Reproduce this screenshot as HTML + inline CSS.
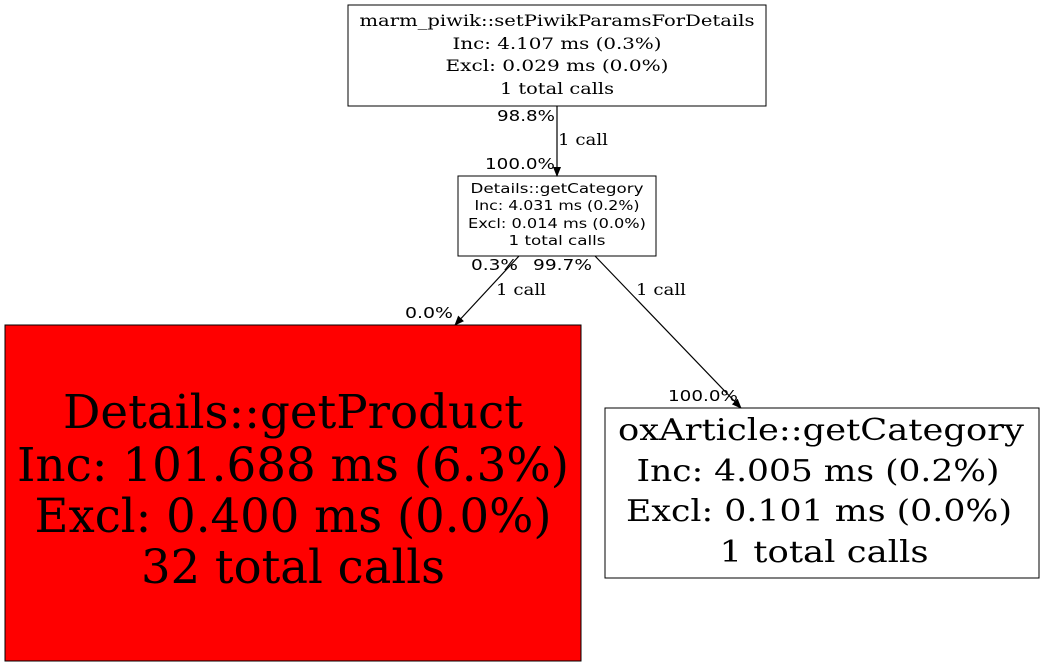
<!DOCTYPE html>
<html><head><meta charset="utf-8"><style>body{margin:0;background:#fff}svg{display:block}</style></head>
<body>
<svg width="1045" height="667" viewBox="0 0 1045 667" xmlns="http://www.w3.org/2000/svg">
<defs><marker id="a" markerWidth="10" markerHeight="8" refX="9" refY="4" orient="auto" markerUnits="userSpaceOnUse"><path d="M0,0 L10,4 L0,8 z" fill="#000"/></marker></defs>
<g font-family="DejaVu Serif, Liberation Serif, serif" text-anchor="middle" fill="#000">
<rect x="348" y="5" width="418" height="101" fill="#fff" stroke="#000"/>
<g font-size="16"><text x="557" y="26" textLength="395" lengthAdjust="spacingAndGlyphs">marm_piwik::setPiwikParamsForDetails</text><text x="557" y="49" textLength="209" lengthAdjust="spacingAndGlyphs">Inc: 4.107 ms (0.3%)</text><text x="557" y="71" textLength="223" lengthAdjust="spacingAndGlyphs">Excl: 0.029 ms (0.0%)</text><text x="557" y="94" textLength="114" lengthAdjust="spacingAndGlyphs">1 total calls</text></g>
<rect x="458" y="176" width="198" height="80" fill="#fff" stroke="#000"/>
<g font-size="13" font-family="DejaVu Sans, Liberation Sans, sans-serif"><text x="557" y="193" textLength="173" lengthAdjust="spacingAndGlyphs">Details::getCategory</text><text x="557" y="210" textLength="165" lengthAdjust="spacingAndGlyphs">Inc: 4.031 ms (0.2%)</text><text x="557" y="228" textLength="178" lengthAdjust="spacingAndGlyphs">Excl: 0.014 ms (0.0%)</text><text x="557" y="245" textLength="97" lengthAdjust="spacingAndGlyphs">1 total calls</text></g>
<rect x="5" y="325" width="576" height="336" fill="#f00" stroke="#000"/>
<g font-size="47"><text x="293" y="428" textLength="460" lengthAdjust="spacingAndGlyphs">Details::getProduct</text><text x="293" y="481" textLength="552" lengthAdjust="spacingAndGlyphs">Inc: 101.688 ms (6.3%)</text><text x="293" y="532" textLength="517" lengthAdjust="spacingAndGlyphs">Excl: 0.400 ms (0.0%)</text><text x="293" y="583" textLength="304" lengthAdjust="spacingAndGlyphs">32 total calls</text></g>
<rect x="605" y="408" width="434" height="170" fill="#fff" stroke="#000"/>
<g font-size="30"><text x="821" y="440" textLength="406" lengthAdjust="spacingAndGlyphs">oxArticle::getCategory</text><text x="818" y="481" textLength="363" lengthAdjust="spacingAndGlyphs">Inc: 4.005 ms (0.2%)</text><text x="819" y="521" textLength="386" lengthAdjust="spacingAndGlyphs">Excl: 0.101 ms (0.0%)</text><text x="824" y="562" textLength="209" lengthAdjust="spacingAndGlyphs">1 total calls</text></g>
<g stroke="#000" stroke-width="1.2" fill="none" marker-end="url(#a)">
<line x1="557" y1="106" x2="557" y2="176"/>
<line x1="519" y1="256" x2="455" y2="325"/>
<line x1="595" y1="256" x2="741" y2="408"/>
</g>
<g font-size="15" font-family="DejaVu Sans, Liberation Sans, sans-serif">
<text x="555" y="121" text-anchor="end" textLength="58" lengthAdjust="spacingAndGlyphs">98.8%</text>
<text x="555" y="169" text-anchor="end" textLength="70" lengthAdjust="spacingAndGlyphs">100.0%</text>
<text x="518" y="270" text-anchor="end" textLength="47" lengthAdjust="spacingAndGlyphs">0.3%</text>
<text x="533" y="270" text-anchor="start" textLength="59" lengthAdjust="spacingAndGlyphs">99.7%</text>
<text x="453" y="318" text-anchor="end" textLength="48" lengthAdjust="spacingAndGlyphs">0.0%</text>
<text x="738" y="401" text-anchor="end" textLength="70" lengthAdjust="spacingAndGlyphs">100.0%</text>
</g>
<g font-size="16">
<text x="558" y="145" text-anchor="start" textLength="50" lengthAdjust="spacingAndGlyphs">1 call</text>
<text x="496" y="295" text-anchor="start" textLength="50" lengthAdjust="spacingAndGlyphs">1 call</text>
<text x="636" y="295" text-anchor="start" textLength="50" lengthAdjust="spacingAndGlyphs">1 call</text>
</g>
</g>
</svg>
</body></html>
